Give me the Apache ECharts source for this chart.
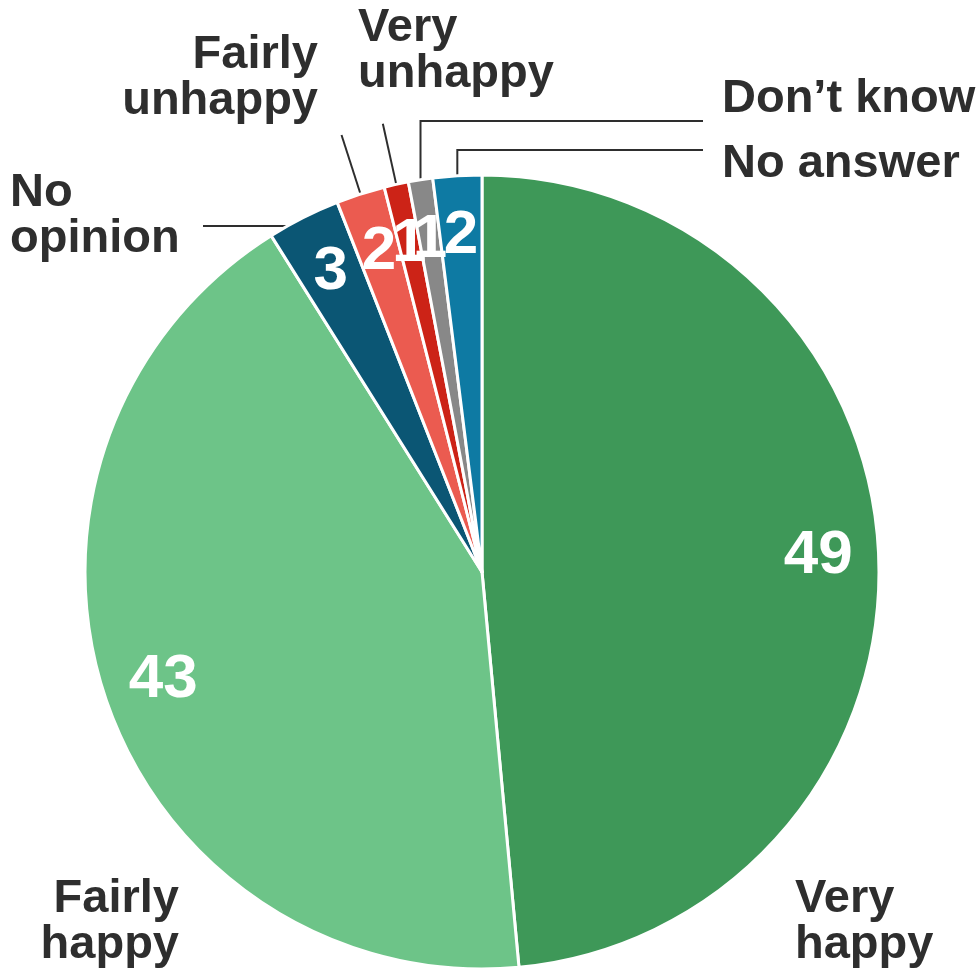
<!DOCTYPE html>
<html>
<head>
<meta charset="utf-8">
<style>
  html, body { margin: 0; padding: 0; background: #ffffff; }
  #chart { width: 980px; height: 972px; }
</style>
<script src="https://cdn.jsdelivr.net/npm/echarts@6/dist/echarts.min.js"></script>
</head>
<body>
<div id="chart"></div>
<script>
// Survey answers, clockwise from twelve o'clock
const categories = ['Very happy', 'Fairly happy', 'No opinion', 'Fairly unhappy', 'Very unhappy', 'Don\u2019t know', 'No answer'];
const labelText = ['Very\nhappy', 'Fairly\nhappy', 'No\nopinion', 'Fairly\nunhappy', 'Very\nunhappy', 'Don\u2019t know', 'No answer'];
const shares = [49, 43, 3, 2, 1, 1, 2];
const sliceColors = ['#3e9858', '#6dc488', '#0b5674', '#eb5b50', '#cc2317', '#888888', '#0e7aa3'];

const CX = 482, CY = 572, R = 397;
const TEXT = '#2e2e2e';
const FONT = '"Liberation Sans", Arial, Helvetica, sans-serif';

// Where each category name sits, and how its leader line runs
const spots = [
  { x: 795, y: 876, align: 'left',  line: 'none' },
  { x: 179, y: 876, align: 'right', line: 'none' },
  { x: 10,  y: 170, align: 'left',  line: 'left', lineY: 226, endX: 203, overlap: 26 },
  { x: 318, y: 32,  align: 'right', line: 'radial' },
  { x: 358, y: 5,   align: 'left',  line: 'radial' },
  { x: 722, y: 76,  align: 'left',  line: 'elbow', lineY: 121, endX: 703 },
  { x: 722, y: 141, align: 'left',  line: 'elbow', lineY: 150, endX: 703 }
];

const chart = echarts.init(document.getElementById('chart'), null, { renderer: 'canvas' });

const sliceData = categories.map((c, i) => ({
  name: c,
  value: shares[i],
  itemStyle: { color: sliceColors[i] },
  label: { formatter: labelText[i] },
  labelLine: { show: spots[i].line !== 'none' }
}));

const valueData = categories.map((c, i) => ({ name: c, value: shares[i] }));

chart.setOption({
  animation: false,
  series: [
    {
      type: 'pie',
      center: [CX, CY],
      radius: [0, R],
      startAngle: 90,
      clockwise: true,
      avoidLabelOverlap: false,
      silent: true,
      emphasis: { disabled: true },
      itemStyle: { borderColor: '#ffffff', borderWidth: 3 },
      label: {
        show: true,
        position: 'outside',
        color: TEXT,
        fontFamily: FONT,
        fontWeight: 'bold',
        fontSize: 47,
        lineHeight: 46
      },
      labelLine: {
        show: true,
        showAbove: true,
        length: 62,
        length2: 0,
        lineStyle: { color: '#2e2e2e', width: 2 }
      },
      labelLayout: function (p) {
        const s = spots[p.dataIndex];
        const out = { x: s.x, y: s.y, align: s.align, verticalAlign: 'top', hideOverlap: false };
        const pts = p.labelLinePoints;
        if (pts && s.line !== 'none') {
          const e = [pts[0][0], pts[0][1]];
          if (s.line === 'radial') {
            const m = [pts[1][0], pts[1][1]];
            out.labelLinePoints = [e, m, m];
          } else if (s.line === 'left') {
            const a = [e[0] + s.overlap, s.lineY];
            const b = [s.endX, s.lineY];
            out.labelLinePoints = [a, b, b];
          } else if (s.line === 'elbow') {
            out.labelLinePoints = [e, [e[0], s.lineY], [s.endX, s.lineY]];
          }
        }
        return out;
      },
      data: sliceData
    },
    {
      // value figures printed inside each slice
      type: 'pie',
      center: [CX, CY],
      radius: [270, R],
      startAngle: 90,
      clockwise: true,
      avoidLabelOverlap: false,
      silent: true,
      emphasis: { disabled: true },
      itemStyle: { color: 'rgba(0,0,0,0)', borderWidth: 0 },
      label: {
        show: true,
        position: 'inside',
        formatter: '{c}',
        color: '#ffffff',
        fontFamily: FONT,
        fontWeight: 'bold',
        fontSize: 62,
        overflow: 'none'
      },
      labelLayout: { hideOverlap: false },
      labelLine: { show: false },
      data: valueData
    }
  ]
});
</script>
</body>
</html>
